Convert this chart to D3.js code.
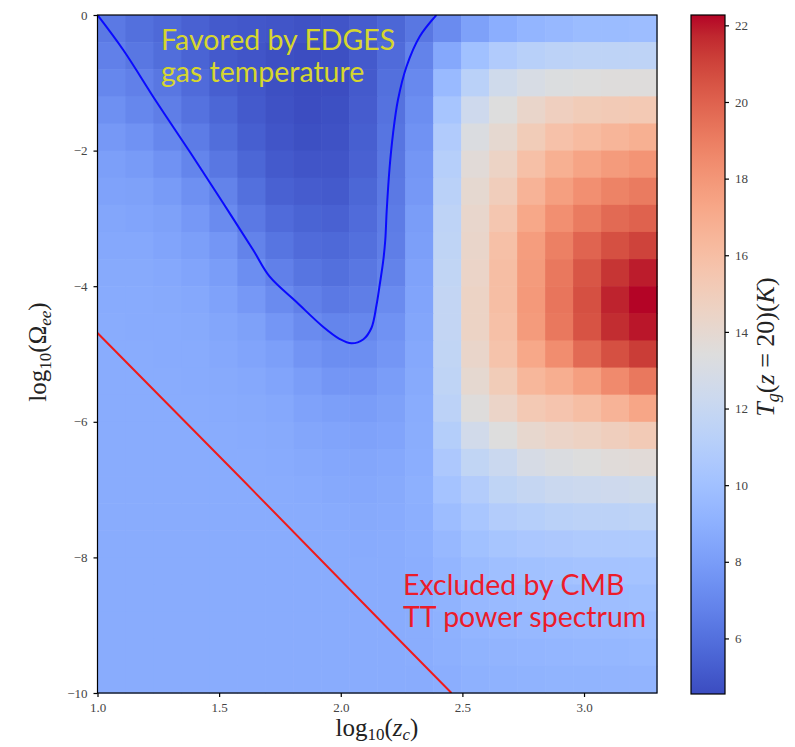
<!DOCTYPE html>
<html><head><meta charset="utf-8">
<script src="https://cdn.jsdelivr.net/npm/d3@7"></script>
<style>body{margin:0;background:#fff;} svg{display:block;}</style>
</head><body><svg id="chart" width="795" height="747"></svg>
<script>
// ---------------- data ----------------
const logZc = [1.0575,1.1725,1.2875,1.4025,1.5175,1.6325,1.7475,1.8625,1.9775,2.0925,
               2.2075,2.3225,2.4375,2.5525,2.6675,2.7825,2.8975,3.0125,3.1275,3.2425];
const logOmega = [-0.2,-0.6,-1.0,-1.4,-1.8,-2.2,-2.6,-3.0,-3.4,-3.8,-4.2,-4.6,-5.0,
                  -5.4,-5.8,-6.2,-6.6,-7.0,-7.4,-7.8,-8.2,-8.6,-9.0,-9.4,-9.8];
const cellW = 0.115, cellH = 0.4;
// T_g(z=20) in K, rows from top (logOmega[0]) to bottom, columns along logZc
const Tg = [
 [6.4,6.0,5.7,5.4,5.1,5.0,4.9,4.8,4.9,5.2,5.6,6.3,7.2,8.2,8.9,9.3,9.5,9.7,9.7,9.8],
 [6.7,6.3,5.9,5.5,5.1,4.9,4.7,4.6,4.7,5.1,5.8,6.8,8.6,10.0,10.8,11.2,11.4,11.5,11.5,11.5],
 [7.0,6.7,6.3,5.8,5.3,5.0,4.7,4.55,4.6,5.1,6.0,7.1,9.6,11.3,12.5,13.0,13.3,13.4,13.5,13.5],
 [7.4,7.0,6.6,6.1,5.6,5.1,4.8,4.6,4.7,5.2,6.1,7.3,10.3,12.4,13.4,14.3,14.8,15.1,15.2,15.3],
 [7.8,7.5,7.0,6.5,5.9,5.3,4.9,4.7,4.8,5.3,6.2,7.5,10.8,13.2,14.0,15.1,15.8,16.2,16.5,16.8],
 [8.1,7.9,7.5,6.9,6.3,5.6,5.1,4.9,4.9,5.4,6.3,7.7,11.1,13.7,14.5,15.9,16.8,17.4,17.8,18.1],
 [8.3,8.2,7.9,7.4,6.8,6.0,5.4,5.2,5.1,5.6,6.4,7.8,11.3,14.0,15.0,16.6,17.6,18.3,18.8,19.1],
 [8.5,8.4,8.2,7.8,7.2,6.4,5.8,5.5,5.4,5.8,6.5,8.0,11.5,14.2,15.5,17.2,18.3,19.1,19.7,20.0],
 [8.6,8.6,8.4,8.1,7.7,6.8,6.2,5.8,5.7,6.0,6.6,8.1,11.6,14.3,15.9,17.7,18.9,19.9,20.6,21.0],
 [8.7,8.7,8.6,8.4,8.0,7.3,6.7,6.2,6.0,6.3,6.8,8.3,11.7,14.4,16.0,17.8,19.2,20.4,21.4,21.9],
 [8.75,8.75,8.7,8.6,8.3,7.8,7.2,6.7,6.4,6.6,7.2,8.4,11.8,14.5,16.0,17.9,19.3,20.6,21.8,22.27],
 [8.8,8.75,8.75,8.7,8.5,8.2,7.7,7.2,6.9,7.0,7.5,8.5,11.8,14.5,15.9,17.8,19.2,20.5,21.6,22.0],
 [8.8,8.8,8.75,8.75,8.6,8.4,8.1,7.6,7.3,7.3,7.7,8.6,11.7,14.3,15.7,17.2,18.4,19.7,20.6,21.2],
 [8.8,8.8,8.8,8.75,8.7,8.6,8.4,8.0,7.7,7.7,8.0,8.7,11.6,14.0,15.1,16.4,16.9,17.6,18.5,19.2],
 [8.8,8.8,8.8,8.8,8.75,8.7,8.6,8.3,8.1,8.0,8.2,8.8,11.4,13.5,14.4,15.3,15.6,16.0,16.6,17.3],
 [8.8,8.8,8.8,8.8,8.8,8.75,8.7,8.5,8.4,8.3,8.4,8.85,11.0,12.6,13.4,14.1,14.4,14.6,14.9,15.2],
 [8.8,8.8,8.8,8.8,8.8,8.8,8.75,8.65,8.55,8.5,8.6,8.9,10.6,11.7,12.2,12.9,13.2,13.4,13.6,13.7],
 [8.8,8.8,8.8,8.8,8.8,8.8,8.8,8.75,8.65,8.6,8.7,9.0,10.2,10.9,11.6,11.9,12.2,12.3,12.4,12.5],
 [8.8,8.8,8.8,8.8,8.8,8.8,8.8,8.8,8.75,8.7,8.75,8.95,9.8,10.4,10.9,11.1,11.3,11.4,11.4,11.5],
 [8.8,8.8,8.8,8.8,8.8,8.8,8.8,8.8,8.8,8.75,8.8,8.95,9.5,10.0,10.3,10.5,10.6,10.7,10.7,10.7],
 [8.8,8.8,8.8,8.8,8.8,8.8,8.8,8.8,8.8,8.8,8.8,8.9,9.3,9.7,9.9,10.0,10.1,10.2,10.2,10.2],
 [8.8,8.8,8.8,8.8,8.8,8.8,8.8,8.8,8.8,8.8,8.8,8.85,9.15,9.5,9.6,9.7,9.8,9.8,9.85,9.9],
 [8.8,8.8,8.8,8.8,8.8,8.8,8.8,8.8,8.8,8.8,8.8,8.85,9.05,9.3,9.4,9.5,9.55,9.6,9.6,9.65],
 [8.8,8.8,8.8,8.8,8.8,8.8,8.8,8.8,8.8,8.8,8.8,8.85,9.0,9.15,9.25,9.3,9.35,9.4,9.4,9.45],
 [8.8,8.8,8.8,8.8,8.8,8.8,8.8,8.8,8.8,8.8,8.8,8.8,8.9,9.05,9.1,9.15,9.2,9.2,9.25,9.25]
];
const xTicks = [1.0,1.5,2.0,2.5,3.0];
const yTicks = [0,-2,-4,-6,-8,-10];
const cbTicks = [6,8,10,12,14,16,18,20,22];
// EDGES-favoured contour (log10 z_c, log10 Omega_ee)
const edgesContour = [[1.0,0],[1.106,-0.516],[1.243,-1.283],[1.380,-2.021],[1.517,-2.777],
  [1.640,-3.466],[1.708,-3.860],[1.818,-4.233],[1.927,-4.597],[1.996,-4.779],[2.044,-4.842],
  [2.092,-4.786],[2.126,-4.617],[2.147,-4.277],[2.160,-3.982],[2.174,-3.643],[2.183,-3.319],
  [2.189,-2.876],[2.201,-2.242],[2.215,-1.745],[2.235,-1.254],[2.270,-0.763],[2.324,-0.320],[2.393,0]];
// CMB TT exclusion boundary
const cmbLine = [[1.0,-4.69],[1.6,-6.87],[2.2,-9.07],[2.455,-10.0]];
// matplotlib coolwarm
const coolwarm = ["#3b4cc0","#445acc","#4d68d7","#5775e1","#6282ea","#6c8ef1","#779af7","#82a5fb",
 "#8db0fe","#98b9ff","#a3c2ff","#aec9fd","#b8d0f9","#c2d5f4","#ccd9ee","#d5dbe6","#dddddd",
 "#e5d8d1","#ecd3c5","#f1ccb9","#f5c4ad","#f7bba0","#f7b194","#f7a687","#f49a7b","#f18d6f",
 "#ec7f63","#e57058","#de604d","#d55042","#cb3e38","#c0282f","#b40426"];

// ---------------- layout ----------------
const svg = d3.select("#chart");
const P = {left:97.5, right:657, top:15, bottom:693};
const x = d3.scaleLinear().domain([1.0,3.3]).range([P.left,P.right]);
const y = d3.scaleLinear().domain([-10,0]).range([P.bottom,P.top]);
const allV = Tg.flat();
const vmin = d3.min(allV), vmax = d3.max(allV);
const interp = d3.piecewise(d3.interpolateRgb, coolwarm);
const color = v => interp((v - vmin)/(vmax - vmin));

const cells = [];
Tg.forEach((row,i)=>row.forEach((v,j)=>cells.push({i,j,v})));
svg.append("g").selectAll("rect").data(cells).join("rect")
  .attr("x", d=>x(logZc[d.j]-cellW/2))
  .attr("y", d=>y(logOmega[d.i]+cellH/2))
  .attr("width", d=>x(logZc[d.j]+cellW/2)-x(logZc[d.j]-cellW/2)+0.6)
  .attr("height", d=>y(logOmega[d.i]-cellH/2)-y(logOmega[d.i]+cellH/2)+0.6)
  .attr("fill", d=>color(d.v));

svg.append("clipPath").attr("id","clip").append("rect")
  .attr("x",P.left).attr("y",P.top).attr("width",P.right-P.left).attr("height",P.bottom-P.top);

const line = d3.line().x(d=>x(d[0])).y(d=>y(d[1]));
svg.append("path").attr("clip-path","url(#clip)")
  .attr("d", line.curve(d3.curveCatmullRom.alpha(0.5))(edgesContour))
  .attr("fill","none").attr("stroke","#0a0aff").attr("stroke-width",2);
svg.append("path").attr("clip-path","url(#clip)")
  .attr("d", d3.line().x(d=>x(d[0])).y(d=>y(d[1]))(cmbLine))
  .attr("fill","none").attr("stroke","#f01a1a").attr("stroke-width",2);

// annotations
const ann = svg.append("g").attr("font-family","Lato, 'Open Sans', sans-serif").attr("font-size",28.5);
const a1 = ann.append("text").attr("x",x(1.261)).attr("y",y(-0.516)).attr("fill","#d6d62e");
a1.append("tspan").attr("x",x(1.261)).text("Favored by EDGES");
a1.append("tspan").attr("x",x(1.261)).attr("dy",31.7).text("gas temperature");
const a2 = ann.append("text").attr("x",x(2.256)).attr("y",y(-8.555)).attr("fill","#ec1c2a");
a2.append("tspan").attr("x",x(2.256)).text("Excluded by CMB");
a2.append("tspan").attr("x",x(2.256)).attr("dy",31.7).text("TT power spectrum");

// frame
svg.append("rect").attr("x",P.left).attr("y",P.top).attr("width",P.right-P.left).attr("height",P.bottom-P.top)
  .attr("fill","none").attr("stroke","#000").attr("stroke-width",1.2);

const tickFont = "'Liberation Serif', 'DejaVu Serif', serif";
// x axis
const gx = svg.append("g").attr("transform",`translate(0,${P.bottom})`)
  .call(d3.axisBottom(x).tickValues(xTicks).tickFormat(d3.format(".1f")).tickSize(4).tickPadding(6));
gx.select(".domain").remove();
gx.selectAll("line").attr("stroke","#000").attr("stroke-width",1.2);
gx.selectAll("text").attr("font-family",tickFont).attr("font-size",13).attr("fill","#444");
// y axis
const gy = svg.append("g").attr("transform",`translate(${P.left},0)`)
  .call(d3.axisLeft(y).tickValues(yTicks).tickFormat(d=>d===0?"0":"\u2212"+Math.abs(d)).tickSize(4).tickPadding(6));
gy.select(".domain").remove();
gy.selectAll("line").attr("stroke","#000").attr("stroke-width",1.2);
gy.selectAll("text").attr("font-family",tickFont).attr("font-size",13).attr("fill","#444");

// axis labels
const lab = "'Liberation Serif', 'DejaVu Serif', serif";
const xl = svg.append("text").attr("x",377).attr("y",736).attr("text-anchor","middle")
  .attr("font-family",lab).attr("font-size",25).attr("fill","#222");
xl.append("tspan").text("log");
xl.append("tspan").attr("font-size",17).attr("dy",4).text("10");
xl.append("tspan").attr("dy",-4).text("(");
xl.append("tspan").attr("font-style","italic").text("z");
xl.append("tspan").attr("font-size",17).attr("font-style","italic").attr("dy",4).text("c");
xl.append("tspan").attr("dy",-4).text(")");

const yl = svg.append("text").attr("transform","translate(46,352) rotate(-90)").attr("text-anchor","middle")
  .attr("font-family",lab).attr("font-size",25).attr("fill","#222");
yl.append("tspan").text("log");
yl.append("tspan").attr("font-size",17).attr("dy",5).text("10");
yl.append("tspan").attr("dy",-5).text("(Ω");
yl.append("tspan").attr("font-size",17).attr("font-style","italic").attr("dy",5).text("ee");
yl.append("tspan").attr("dy",-5).text(")");

// colorbar
const CB = {x0:691, x1:725, top:15, bottom:694};
const cy = d3.scaleLinear().domain([vmin,vmax]).range([CB.bottom,CB.top]);
const grad = svg.append("defs").append("linearGradient").attr("id","cbg")
  .attr("x1",0).attr("y1",1).attr("x2",0).attr("y2",0);
coolwarm.forEach((c,k)=>grad.append("stop").attr("offset",k/(coolwarm.length-1)).attr("stop-color",c));
svg.append("rect").attr("x",CB.x0).attr("y",CB.top).attr("width",CB.x1-CB.x0).attr("height",CB.bottom-CB.top)
  .attr("fill","url(#cbg)").attr("stroke","#000").attr("stroke-width",1.2);
const gc = svg.append("g").attr("transform",`translate(${CB.x1},0)`)
  .call(d3.axisRight(cy).tickValues(cbTicks).tickSize(4).tickPadding(6));
gc.select(".domain").remove();
gc.selectAll("line").attr("stroke","#000").attr("stroke-width",1.2);
gc.selectAll("text").attr("font-family",tickFont).attr("font-size",13).attr("fill","#444");

const cl = svg.append("text").attr("transform","translate(774,347) rotate(-90)").attr("text-anchor","middle")
  .attr("font-family",lab).attr("font-size",26).attr("fill","#222");
cl.append("tspan").attr("font-style","italic").text("T");
cl.append("tspan").attr("font-size",18).attr("font-style","italic").attr("dy",5).text("g");
cl.append("tspan").attr("dy",-5).text("(");
cl.append("tspan").attr("font-style","italic").text("z");
cl.append("tspan").text(" = 20)(");
cl.append("tspan").attr("font-style","italic").text("K");
cl.append("tspan").text(")");
</script></body></html>
